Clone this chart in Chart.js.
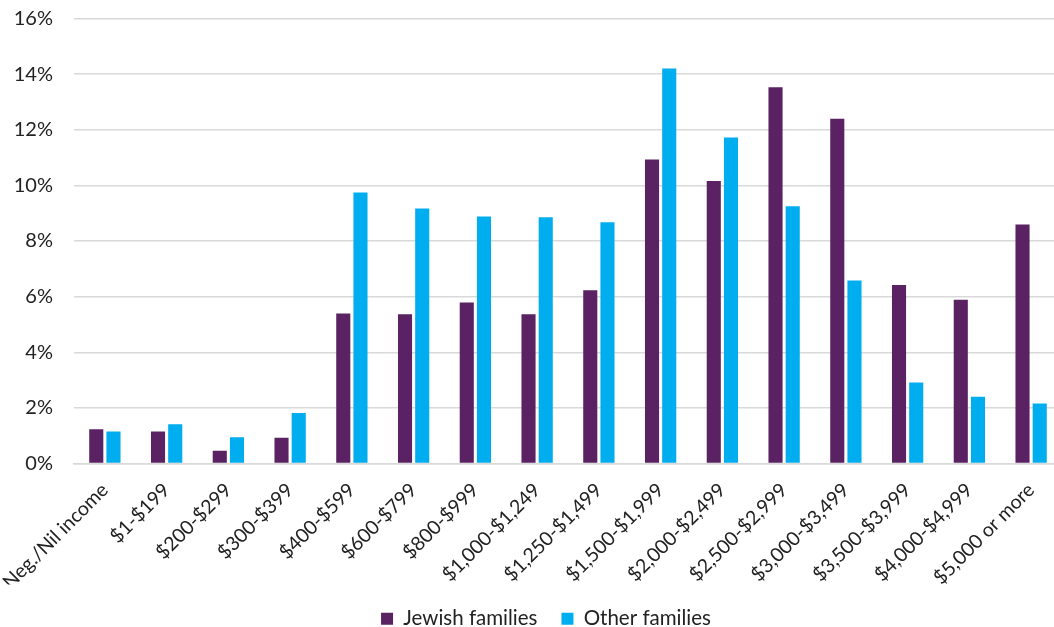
<!DOCTYPE html>
<html>
<head>
<meta charset="utf-8">
<script src="https://cdn.jsdelivr.net/npm/chart.js@4.4.1/dist/chart.umd.min.js"></script>
<style>
  html, body { margin: 0; padding: 0; background: #fff; overflow: hidden; }
  #wrap { width: 1054px; height: 627px; position: relative; overflow: hidden; }
</style>
</head>
<body>
<div id="wrap"><canvas id="chart" width="1062" height="627"></canvas></div>
<script>
// Income bands (weekly family income)
const categories = [
    'Neg./Nil income', '$1-$199', '$200-$299', '$300-$399', '$400-$599',
    '$600-$799', '$800-$999', '$1,000-$1,249', '$1,250-$1,499', '$1,500-$1,999',
    '$2,000-$2,499', '$2,500-$2,999', '$3,000-$3,499', '$3,500-$3,999',
    '$4,000-$4,999', '$5,000 or more'
];

// Share of families, in percent
const jewishFamilies = [1.23, 1.15, 0.46, 0.93, 5.39, 5.37, 5.79, 5.37, 6.23, 10.93, 10.16, 13.53, 12.40, 6.42, 5.89, 8.59];
const otherFamilies = [1.15, 1.41, 0.94, 1.82, 9.74, 9.17, 8.88, 8.85, 8.67, 14.20, 11.72, 9.25, 6.58, 2.91, 2.40, 2.16];

const yTicks = [0, 2, 4, 6, 8, 10, 12, 14, 16];

const fontFamily = 'Lato, "Open Sans", sans-serif';
const textColor = '#222';
const gridColor = '#d9d9d9';

// nudge the legend a little right, like the original
const legendShift = {
    id: 'legendShift',
    afterLayout(chart) {
        chart.legend.left += 15;
        chart.legend.right += 15;
    }
};

const ctx = document.getElementById('chart').getContext('2d');
const chart = new Chart(ctx, {
    type: 'bar',
    data: {
        labels: categories,
        datasets: [{
            label: 'Jewish families',
            data: jewishFamilies,
            backgroundColor: '#5a2263',
            borderWidth: 0,
            categoryPercentage: 0.557,
            barPercentage: 0.82
        }, {
            label: 'Other families',
            data: otherFamilies,
            backgroundColor: '#00adee',
            borderWidth: 0,
            categoryPercentage: 0.557,
            barPercentage: 0.82
        }]
    },
    options: {
        responsive: false,
        animation: false,
        layout: { padding: { top: 18.5, right: 0, left: 0, bottom: -12 } },
        plugins: {
            tooltip: { enabled: false },
            legend: {
                position: 'bottom',
                labels: {
                    color: textColor,
                    font: { family: fontFamily, size: 20.5 },
                    boxWidth: 12,
                    boxHeight: 12,
                    padding: 24
                }
            }
        },
        scales: {
            x: {
                grid: { display: false },
                border: { color: gridColor, width: 1.5 },
                ticks: {
                    color: textColor,
                    font: { family: fontFamily, size: 19.5 },
                    minRotation: 45,
                    maxRotation: 45,
                    autoSkip: false,
                    padding: 7
                },
                afterFit: function(axis) {
                    axis.height = 121;
                    axis.paddingLeft = 0;
                    axis.paddingRight = 0;
                }
            },
            y: {
                min: 0,
                max: 16,
                afterBuildTicks: function(axis) {
                    axis.ticks = yTicks.map(v => ({ value: v }));
                },
                grid: { color: gridColor, lineWidth: 1.5, drawTicks: false },
                border: { display: false },
                ticks: {
                    color: textColor,
                    font: { family: fontFamily, size: 20 },
                    padding: 21,
                    callback: v => v + '%'
                },
                afterFit: function(axis) {
                    axis.width = 74;
                    axis.paddingTop = 0;
                }
            }
        }
    },
    plugins: [legendShift]
});
</script>
</body>
</html>
